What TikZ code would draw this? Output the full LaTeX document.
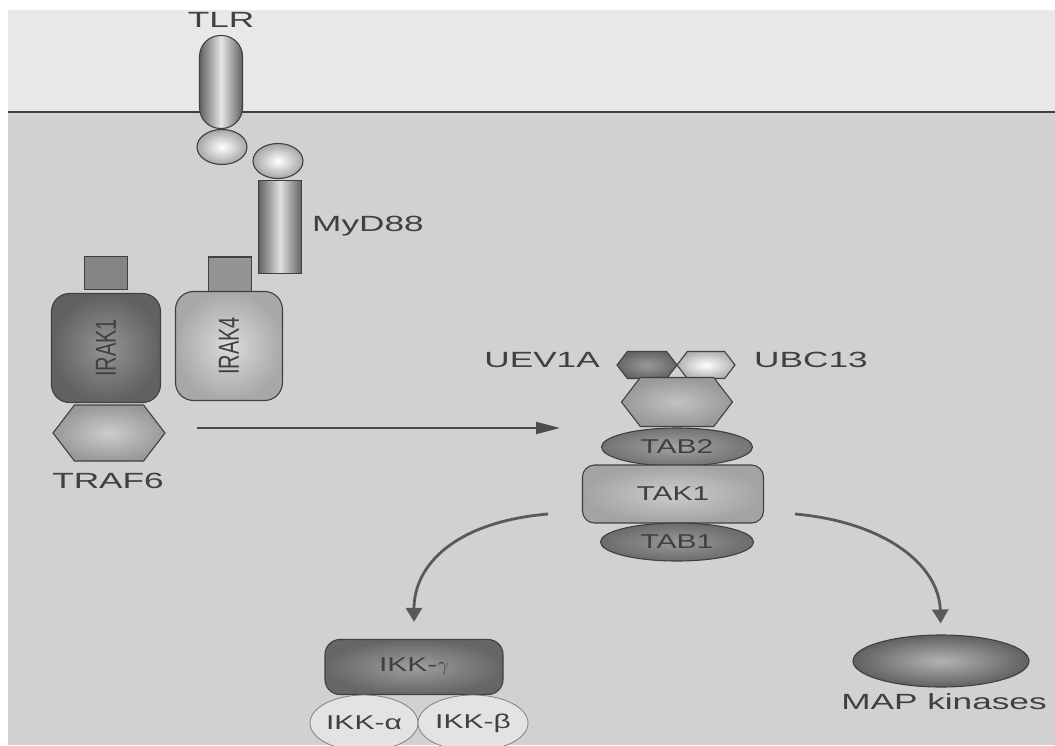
\documentclass[tikz,border=0pt]{standalone}
\usepackage{fontspec}
\newfontfamily\lblfont[FakeStretch=1.6]{Liberation Sans}
\newfontfamily\inlblfont[FakeStretch=1.5]{Liberation Sans}
\newfontfamily\rotfont{Liberation Sans}
\usetikzlibrary{arrows.meta,shapes.geometric,shapes.symbols,positioning}
\newcommand\vlbl[1]{\scalebox{1}[1.45]{#1}}

\begin{document}
\begin{tikzpicture}[x=1pt, y=-1pt,
    txt/.style={font={\lblfont\fontsize{22pt}{22pt}\selectfont}, text=black!75, inner sep=0pt},
    prot/.style={draw=black!75, line width=1.1pt, inner sep=0pt, text=black!75, font={\inlblfont\fontsize{20pt}{20pt}\selectfont}},
    pill/.style={prot, rounded corners=21pt, minimum width=43pt, minimum height=93pt, left color=black!62, right color=black!62, middle color=black!10},
    bar/.style={prot, minimum width=43pt, minimum height=93pt, left color=black!62, right color=black!62, middle color=black!12},
    ball/.style={prot, ellipse, minimum width=50pt, minimum height=35pt, inner color=white, outer color=black!35},
    stub/.style={prot, minimum width=43pt, minimum height=33pt},
    kbox/.style={prot, rounded corners=18pt, minimum width=109pt, minimum height=109pt, rotate=90, font={\rotfont\fontsize{20pt}{20pt}\selectfont}},
    hexa/.style={prot, signal, signal to=east and west, signal pointer angle=105},
    oval/.style={prot, ellipse},
    arr/.style={-{Triangle[length=24pt, width=12pt]}, line width=2.2pt, draw=black!70},
    curvy/.style={-{Triangle[length=14pt, width=16pt]}, line width=2.8pt, draw=black!65}
]
\useasboundingbox (0,0) rectangle (1055,745);
% backdrop
\fill[white] (0,0) rectangle (1055,745);
\fill[black!9] (8,10) rectangle (1055,112);
\fill[black!18] (8,112) rectangle (1055,745);
\draw[black!75, line width=1.3pt] (8,112) -- (1055,112);

% receptor and adaptor
\node[txt] (tlrlbl) at (221,20) {TLR};
\node[pill] (tlr) at (221,82) {};
\node[ball] (tir1) at (222,147) {};
\node[ball] (tir2) at (278,161) {};
\node[bar] (myd) at (280,227) {};
\node[txt, anchor=west] (mydlbl) at (312,226) {MyD88};

% kinases
\node[stub, fill=black!48] (irak1top) at (106,273) {};
\node[kbox, inner color=black!42, outer color=black!62] (irak1) at (106,348) {\vlbl{IRAK1}};
\node[stub, minimum height=36pt, fill=black!42] (irak4top) at (230,275) {};
\node[kbox, minimum height=107pt, inner color=black!14, outer color=black!34] (irak4) at (229,346) {\vlbl{IRAK4}};
\node[hexa, minimum width=112pt, minimum height=56pt, inner color=black!20, outer color=black!40] (traf6) at (109,433) {};
\node[txt] (traf6lbl) at (108,481) {TRAF6};

% complex
\node[hexa, minimum width=60pt, minimum height=27pt, inner color=black!40, outer color=black!60] (uev) at (647,365) {};
\node[hexa, minimum width=58pt, minimum height=27pt, inner color=white, outer color=black!30] (ubc) at (706,365) {};
\node[txt, anchor=east] (uevlbl) at (600,360) {UEV1A};
\node[txt, anchor=west] (ubclbl) at (754,360) {UBC13};
\node[hexa, minimum width=111pt, minimum height=49pt, inner color=black!24, outer color=black!40] (hexb) at (677,402) {};
\node[oval, minimum width=151pt, minimum height=38pt, inner color=black!36, outer color=black!55] (tab2) at (677,447) {TAB2};
\node[prot, rounded corners=12pt, minimum width=181pt, minimum height=58pt, inner color=black!20, outer color=black!36] (tak1) at (673,494) {TAK1};
\node[oval, minimum width=153pt, minimum height=38pt, inner color=black!40, outer color=black!58] (tab1) at (677,542) {TAB1};

% targets
\node[prot, rounded corners=15pt, minimum width=178pt, minimum height=55pt, inner color=black!38, outer color=black!60] (ikkg) at (414,667) {IKK-$\gamma$};
\node[oval, draw=black!50, line width=0.8pt, fill=black!11, minimum width=108pt, minimum height=56pt] (ikka) at (364,723) {IKK-α};
\node[oval, draw=black!50, line width=0.8pt, fill=black!11, minimum width=110pt, minimum height=56pt] (ikkb) at (473,723) {IKK-β};
\node[oval, minimum width=176pt, minimum height=52pt, inner color=black!30, outer color=black!62] (map) at (941,661) {};
\node[txt] (maplbl) at (944,702) {MAP kinases};

% signalling arrows
\coordinate (src) at (197,428);
\coordinate (dst) at (560,428);
\coordinate (lft) at (548,514);
\coordinate (rgt) at (795,514);
\draw[arr] (src) -- (dst);
\draw[curvy, shorten >=17pt] (lft) .. controls (455,522) and (414,565) .. (ikkg.north);
\draw[curvy, shorten >=11pt] (rgt) .. controls (885,522) and (939,565) .. (map.north);
\end{tikzpicture}
\end{document}
